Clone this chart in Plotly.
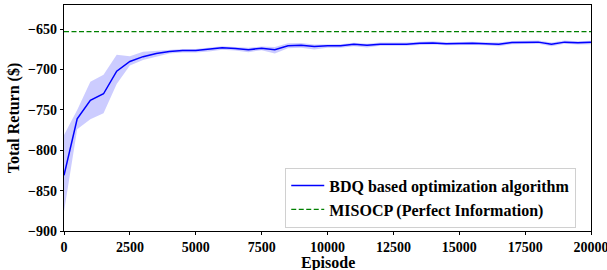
import plotly.graph_objects as go

episodes = list(range(0, 20001, 500))
bdq_mean = [-831, -761, -738, -730, -702, -690, -684, -680, -677.5, -676.5,
            -676.5, -675, -673, -674, -675.5, -673.5, -675.5, -670.5, -670, -671.5,
            -670.5, -670.5, -668.7, -670, -668.5, -668.5, -668.5, -667.5, -667, -668,
            -667.5, -667.5, -668, -668.5, -666.5, -666.5, -666, -668.5, -666, -666.8,
            -666.3]
bdq_upper = [-781, -750, -715, -706.5, -681.5, -683.5, -678, -677, -675.5, -674.5,
             -674.5, -673, -671, -672, -673, -671.5, -672, -667.5, -667, -669,
             -668.5, -668.5, -666.7, -668, -666.5, -666.5, -666.5, -665.5, -665, -666,
             -665.5, -665.5, -666, -666.5, -664.5, -664.5, -664, -666.5, -664, -664.8,
             -664.3]
bdq_lower = [-876, -774, -761.5, -754, -718, -695, -688, -684, -680, -679,
             -679, -677.5, -675.5, -676.5, -678.5, -676, -680, -673.5, -673, -675,
             -673, -673, -671, -672.5, -670.5, -670.5, -670.5, -669.5, -669, -670,
             -669.5, -669.5, -670, -671, -668.5, -668.5, -668, -671, -668, -669,
             -668.5]
misocp_value = -653
x_ticks = [0, 2500, 5000, 7500, 10000, 12500, 15000, 17500, 20000]
y_ticks = [-900, -850, -800, -750, -700, -650]
x_title = "Episode"
y_title = "Total Return ($)"

FONT = "Liberation Serif"

fig = go.Figure()
fig.add_trace(go.Scatter(x=episodes, y=bdq_lower, mode="lines", line=dict(width=0),
                         showlegend=False, hoverinfo="skip"))
fig.add_trace(go.Scatter(x=episodes, y=bdq_upper, mode="lines", line=dict(width=0),
                         fill="tonexty", fillcolor="rgba(0,0,255,0.2)",
                         showlegend=False, hoverinfo="skip"))
fig.add_trace(go.Scatter(x=episodes, y=bdq_mean, mode="lines",
                         line=dict(color="blue", width=1.5),
                         name="<b>BDQ based optimization algorithm</b>"))
fig.add_trace(go.Scatter(x=[episodes[0], episodes[-1]], y=[misocp_value, misocp_value],
                         mode="lines", line=dict(color="green", width=1.3, dash="5px,2.5px"),
                         name="<b>MISOCP (Perfect Information)</b>"))

axis_common = dict(showline=True, linecolor="black", linewidth=1.2, mirror=True,
                   showgrid=False, zeroline=False, ticks="outside", ticklen=3,
                   tickcolor="black", tickwidth=1, ticklabeloverflow="allow",
                   automargin=False,
                   tickfont=dict(family=FONT, size=14, color="black"))

fig.update_xaxes(range=[0, 20000], tickvals=x_ticks,
                 ticktext=["<b>" + str(v) + "</b>" for v in x_ticks],
                 **axis_common)
fig.update_yaxes(range=[-900, -620], tickvals=y_ticks,
                 ticktext=["<b>\u2212" + str(abs(v)) + "</b>" for v in y_ticks],
                 title=dict(text="<b>" + y_title + "</b>",
                            font=dict(family=FONT, size=16, color="black"), standoff=4),
                 **axis_common)

fig.add_annotation(text="<b>" + x_title + "</b>", xref="paper", yref="paper",
                   x=0.5, y=-0.14, xanchor="center", yanchor="middle", showarrow=False,
                   font=dict(family=FONT, size=16, color="black"))

fig.update_layout(
    width=607, height=270,
    margin=dict(l=64, r=16, t=5, b=39, autoexpand=False),
    plot_bgcolor="white", paper_bgcolor="white",
    font=dict(family=FONT, color="black"),
    legend=dict(x=0.972, y=0.015, xanchor="right", yanchor="bottom",
                bgcolor="white", bordercolor="#d0d0d0", borderwidth=1,
                font=dict(family=FONT, size=16, color="black"),
                traceorder="normal", tracegroupgap=0, itemwidth=33),
)

fig.write_html("out.html", config={"displayModeBar": False},
               post_script="document.body.style.margin='0';document.body.style.padding='0';")
